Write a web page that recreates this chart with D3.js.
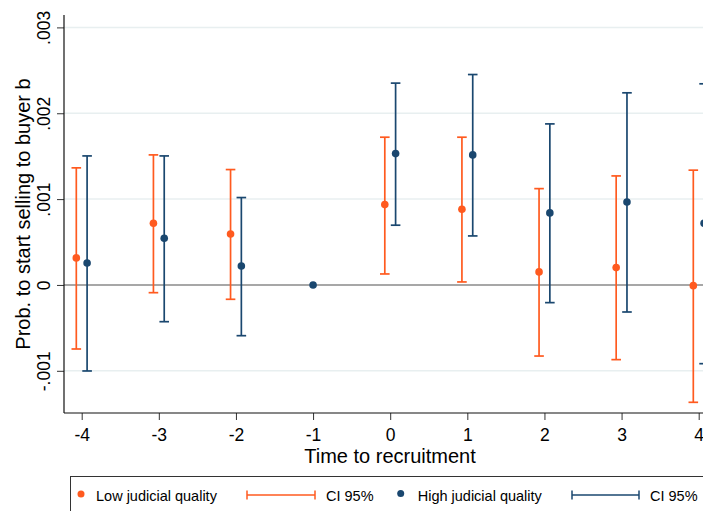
<!DOCTYPE html>
<html><head><meta charset="utf-8">
<script src="https://cdn.jsdelivr.net/npm/d3@7"></script>
<style>body{margin:0;background:#fff;overflow:hidden}svg{display:block;font-family:"Liberation Sans",Arial,sans-serif}</style>
</head><body>
<svg id="c" width="703" height="511"></svg>
<script>
const periods = [-4,-3,-2,-1,0,1,2,3,4];
// Low judicial quality
const lowEst = [0.000315,0.000719,0.000594,null,0.000936,0.000882,0.000152,0.000202,-0.000008];
const lowLo  = [-0.000746,-0.000090,-0.000167,null,0.000128,0.000035,-0.000828,-0.000870,-0.001367];
const lowHi  = [0.001364,0.001515,0.001344,null,0.001721,0.001721,0.001122,0.001270,0.001337];
// High judicial quality
const highEst = [0.000256,0.000544,0.000221,0,0.001530,0.001515,0.000839,0.000967,0.000719];
const highLo  = [-0.001002,-0.000428,-0.000591,null,0.000696,0.000571,-0.000206,-0.000315,-0.000917];
const highHi  = [0.001503,0.001503,0.001018,null,0.002351,0.002451,0.001876,0.002238,0.002343];
const yTicks = [-0.001,0,0.001,0.002,0.003];
const yTickLabels = ["-.001","0",".001",".002",".003"];
const xTitle = "Time to recruitment";
const yTitle = "Prob. to start selling to buyer b";
const legendLabels = ["Low judicial quality","CI 95%","High judicial quality","CI 95%"];

(function(){
const ORANGE = "#ff5a1f", BLUE = "#1a476f";
const svg = d3.select("#c");
const pLeft = 64, pTop = 15, pBottom = 413;
const x = d3.scaleLinear().domain([-4,4]).range([81.7,698.7]);
const y = d3.scaleLinear().domain([-0.001,0.003]).range([370.8,27.4]);
const off = 0.07;

svg.append("g").selectAll("line").data(yTicks.filter(d=>d!==0)).join("line")
  .attr("x1",pLeft).attr("x2",703).attr("y1",d=>y(d)).attr("y2",d=>y(d))
  .attr("stroke","#e8eff0").attr("stroke-width",1.5);
svg.append("line").attr("x1",pLeft).attr("x2",703).attr("y1",y(0)).attr("y2",y(0))
  .attr("stroke","#8a8a8a").attr("stroke-width",1.6);

const yAxis = d3.axisLeft(y).tickValues(yTicks).tickFormat((d,i)=>yTickLabels[i]).tickSize(7).tickPadding(0);
const gy = svg.append("g").attr("transform",`translate(${pLeft},0)`).call(yAxis);
gy.attr("font-family",null);
gy.select(".domain").remove();
gy.selectAll(".tick line").attr("stroke","#333");
gy.selectAll(".tick text").attr("font-size",17.5).attr("fill","#000")
  .attr("transform","rotate(-90)").attr("x",0).attr("y",-14).attr("dy",0)
  .attr("text-anchor","middle");
svg.append("line").attr("x1",pLeft).attr("x2",pLeft).attr("y1",pTop).attr("y2",pBottom).attr("stroke","#111").attr("stroke-width",1.2);

const xAxis = d3.axisBottom(x).tickValues(periods).tickFormat(d=>d).tickSize(7).tickPadding(0);
const gx = svg.append("g").attr("transform",`translate(0,${pBottom})`).call(xAxis);
gx.attr("font-family",null);
gx.select(".domain").remove();
gx.selectAll(".tick line").attr("stroke","#333");
gx.selectAll(".tick text").attr("font-size",17.5).attr("fill","#000").attr("y",27.5).attr("dy",0);
svg.append("line").attr("x1",pLeft).attr("x2",703).attr("y1",pBottom).attr("y2",pBottom).attr("stroke","#111").attr("stroke-width",1.2);

svg.append("text").attr("x",390).attr("y",463).attr("text-anchor","middle").attr("font-size",20).text(xTitle);
svg.append("text").attr("transform",`translate(30,${(pTop+pBottom)/2}) rotate(-90)`).attr("text-anchor","middle").attr("font-size",20).text(yTitle);

function drawSeries(est, lo, hi, color, dx){
  const g = svg.append("g");
  periods.forEach((p,i)=>{
    if(est[i]===null) return;
    const cx = (lo[i]===null) ? x(p) : x(p+dx);
    if(lo[i]!==null){
      g.append("line").attr("x1",cx).attr("x2",cx).attr("y1",y(lo[i])).attr("y2",y(hi[i])).attr("stroke",color).attr("stroke-width",1.7);
      [lo[i],hi[i]].forEach(v=>g.append("line").attr("x1",cx-4.8).attr("x2",cx+4.8).attr("y1",y(v)).attr("y2",y(v)).attr("stroke",color).attr("stroke-width",1.7));
    }
    g.append("circle").attr("cx",cx).attr("cy",y(est[i])).attr("r",3.8).attr("fill",color);
  });
}
drawSeries(lowEst,lowLo,lowHi,ORANGE,-off);
drawSeries(highEst,highLo,highHi,BLUE,off);

const lg = svg.append("g");
lg.append("rect").attr("x",70.5).attr("y",476.5).attr("width",700).attr("height",60).attr("fill","#fff").attr("stroke","#333").attr("stroke-width",1);
const ly = 495;
lg.append("circle").attr("cx",81).attr("cy",ly-1).attr("r",3.5).attr("fill",ORANGE);
lg.append("text").attr("x",96).attr("y",ly+5.5).attr("font-size",14.5).text(legendLabels[0]);
function ciKey(x1,x2,color){
  lg.append("line").attr("x1",x1).attr("x2",x2).attr("y1",ly).attr("y2",ly).attr("stroke",color).attr("stroke-width",1.5);
  [x1,x2].forEach(xx=>lg.append("line").attr("x1",xx).attr("x2",xx).attr("y1",ly-4.5).attr("y2",ly+4.5).attr("stroke",color).attr("stroke-width",1.5));
}
ciKey(247,315,ORANGE);
lg.append("text").attr("x",326).attr("y",ly+5.5).attr("font-size",14.5).text(legendLabels[1]);
lg.append("circle").attr("cx",400.7).attr("cy",ly-1.5).attr("r",3.5).attr("fill",BLUE);
lg.append("text").attr("x",417.7).attr("y",ly+5.5).attr("font-size",14.5).text(legendLabels[2]);
ciKey(572,639,BLUE);
lg.append("text").attr("x",650).attr("y",ly+5.5).attr("font-size",14.5).text(legendLabels[3]);
})();
</script>
</body></html>
